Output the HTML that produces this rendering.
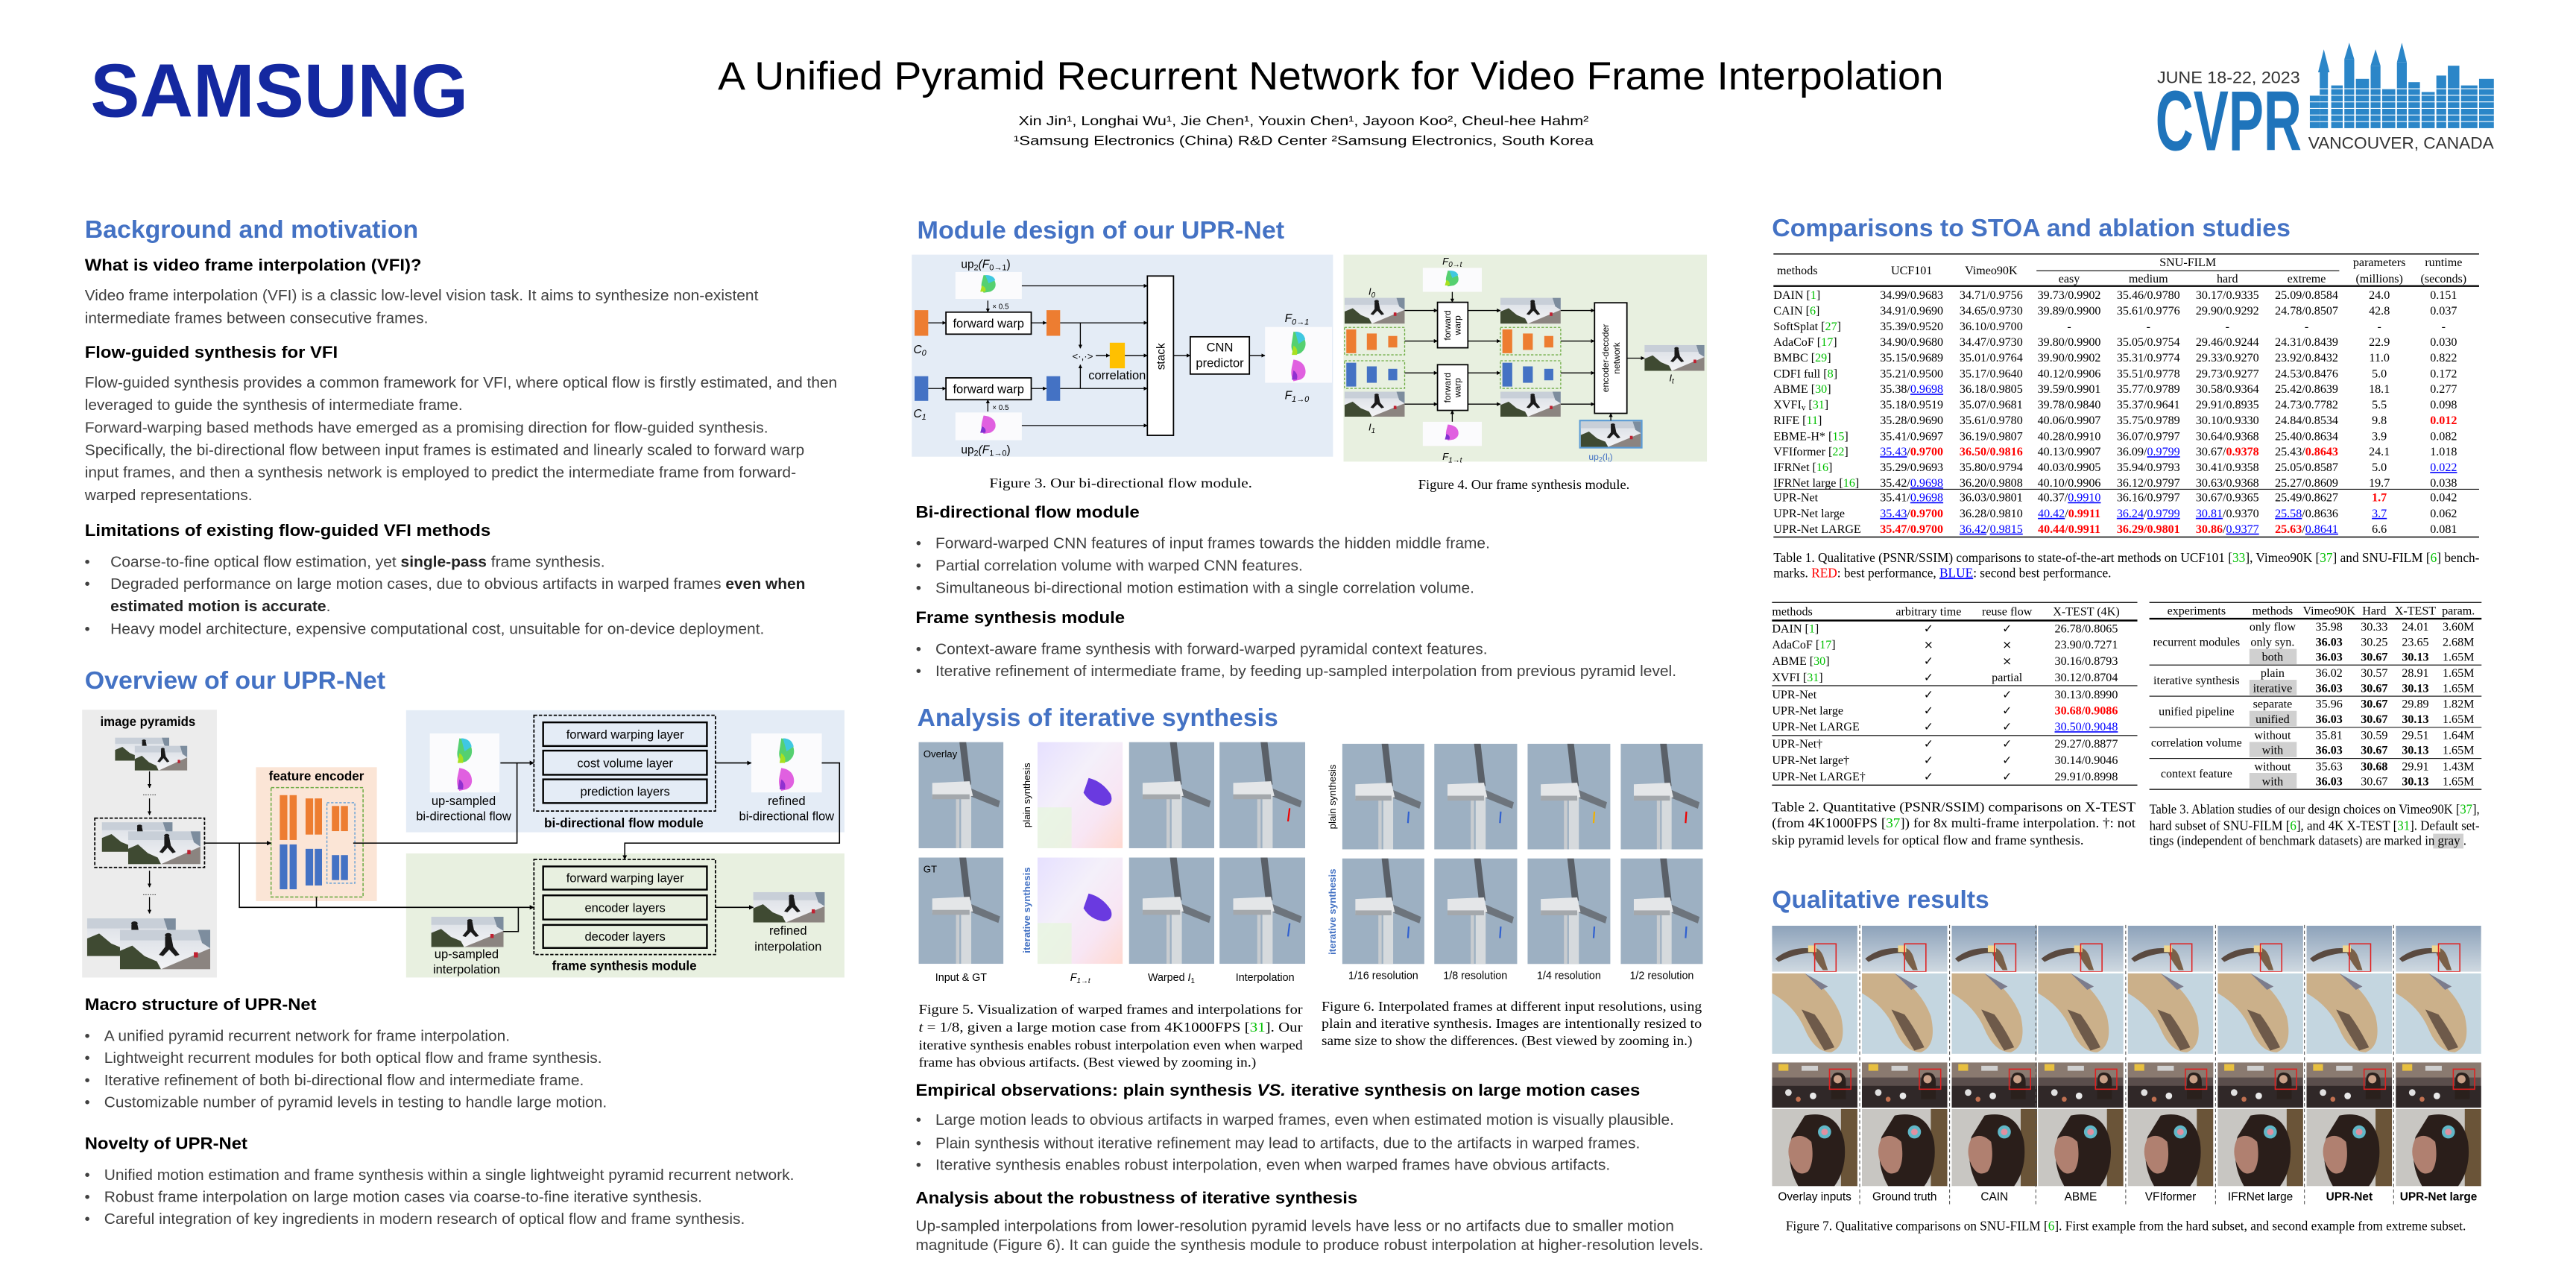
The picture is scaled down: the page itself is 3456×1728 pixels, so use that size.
<!DOCTYPE html>
<html><head><meta charset="utf-8"><style>
html,body{margin:0;padding:0;background:#fff;}
svg{display:block}
.h{font-family:"Liberation Sans",sans-serif;font-weight:bold;font-size:15px;fill:#4472C4}
.sh{font-family:"Liberation Sans",sans-serif;font-weight:bold;font-size:10px;fill:#000}
.b{font-family:"Liberation Sans",sans-serif;font-size:9.3px;fill:#404040}
.d{font-family:"Liberation Sans",sans-serif;font-size:7px;fill:#000}
.s{font-family:"Liberation Serif",serif;font-size:7.3px;fill:#000}
.c{font-family:"Liberation Serif",serif;font-size:8px;fill:#000}
.g{fill:#00c000}
.r{fill:#ff0000;font-weight:bold}
.u{fill:#0000ff;text-decoration:underline}
.bd{font-weight:bold}
</style></head><body>
<svg width="3456" height="1728" viewBox="0 0 1568 784" xmlns="http://www.w3.org/2000/svg">
<defs>
<marker id="ar" viewBox="0 0 6 6" refX="5.5" refY="3" markerWidth="4" markerHeight="4" orient="auto"><path d="M0,0 L6,3 L0,6 z" fill="#000"/></marker>
<linearGradient id="sky" x1="0" y1="0" x2="0" y2="1"><stop offset="0" stop-color="#d8dde4"/><stop offset="1" stop-color="#f4f4f6"/></linearGradient>
<symbol id="sk" viewBox="0 0 44 30" preserveAspectRatio="none">
<rect width="44" height="30" fill="url(#sky)"/><rect x="0" y="0" width="44" height="8" fill="#c8cfd8"/>
<path d="M0,30 L0,16 L6,12 L12,20 L18,24 L20,30 z" fill="#3f4a32"/>
<path d="M20,30 L44,14 L44,30 z" fill="#8b8480"/><path d="M38,0 L44,0 L44,14 L40,10z" fill="#7d8d9e"/>
<path d="M22,5 l3,0 l1,8 l3,6 l-2,1 l-3,-5 l-3,5 l-2,-1 l3,-6 z" fill="#1a1a1a"/><circle cx="23.5" cy="4" r="1.6" fill="#1a1a1a"/>
<rect x="36" y="17" width="2" height="4" fill="#c02030"/>
</symbol>
<symbol id="fl" viewBox="0 0 40 36" preserveAspectRatio="none">
<rect width="40" height="36" fill="#fbfbfd"/>
<path d="M17,3 q6,1 7,6 q1,5 -3,8 l-3,1 q-3,-3 -2,-8 z" fill="#55d070"/><path d="M18,3 q5,0 6,5 l-4,3z" fill="#40c8e0"/><path d="M17,12 q3,2 2,6 l-3,0z" fill="#a8e020"/>
<path d="M17,21 q6,1 7,6 q1,5 -3,7 l-4,1 q-2,-4 -1,-9 z" fill="#e060e0"/><path d="M17,28 q3,2 2,6 l-3,0z" fill="#9030d0"/>
</symbol>
<symbol id="fl1" viewBox="0 0 40 26" preserveAspectRatio="none">
<rect width="40" height="26" fill="#fbfbfd"/><path d="M17,3 q6,1 7,7 q1,6 -3,9 l-4,1 q-2,-5 -1,-11 z" fill="#55d070"/><path d="M18,3 q5,0 6,5 l-4,3z" fill="#40c8e0"/><path d="M16,13 q3,2 2,6 l-3,0z" fill="#a8e020"/>
</symbol>
<symbol id="fl2" viewBox="0 0 40 26" preserveAspectRatio="none">
<rect width="40" height="26" fill="#fbfbfd"/><path d="M17,3 q6,1 7,7 q1,6 -3,9 l-4,1 q-2,-5 -1,-11 z" fill="#e060e0"/><path d="M16,13 q3,2 2,6 l-3,0z" fill="#8030d0"/>
</symbol>
<symbol id="tb" viewBox="0 0 50 65" preserveAspectRatio="none">
<rect width="50" height="65" fill="#9db0c2"/>
<path d="M24,0 L28,0 L31,26 L27,27 z" fill="#5a6068"/>
<path d="M30,28 L48,36 L47,40 L30,33z" fill="#6d747c"/>
<rect x="25" y="30" width="6" height="35" fill="#d6dadd"/><rect x="22" y="32" width="2" height="33" fill="#c8ccd0"/>
<path d="M8,25 L30,24 L32,33 L8,34 z" fill="#e4e6e8"/><rect x="8" y="32" width="22" height="3" fill="#a4a8ac"/>
</symbol>
<linearGradient id="pf" x1="0" y1="0" x2="1" y2="1"><stop offset="0" stop-color="#e6e0ff"/><stop offset=".4" stop-color="#f4f0fa"/><stop offset=".7" stop-color="#f8e6f4"/><stop offset="1" stop-color="#ffd9d0"/></linearGradient>
<symbol id="ff" viewBox="0 0 50 65" preserveAspectRatio="none">
<rect width="50" height="65" fill="url(#pf)"/><rect x="0" y="40" width="20" height="25" fill="#e6f6dc" opacity=".7"/>
<path d="M30,22 q8,2 13,10 q2,6 -4,7 q-8,-1 -12,-8 z" fill="#6a3ae0"/>
</symbol>
<linearGradient id="bsky" x1="0" y1="0" x2="0" y2="1"><stop offset="0" stop-color="#8da2ba"/><stop offset="1" stop-color="#cfd9e1"/></linearGradient>
<symbol id="bt" viewBox="0 0 52 28" preserveAspectRatio="none">
<rect width="52" height="28" fill="url(#bsky)"/><path d="M2,20 q10,-8 24,-6 l4,3 q-12,-2 -26,5z" fill="#5a4a40"/><path d="M24,13 q6,0 8,8 l2,6 l-3,0 q-5,-6 -7,-12z" fill="#7a6048"/><rect x="22" y="12" width="5" height="4" fill="#f0d890"/>
<rect x="26" y="11" width="13" height="17" fill="none" stroke="#e02020" stroke-width=".7"/>
</symbol>
<symbol id="bw" viewBox="0 0 52 49" preserveAspectRatio="none">
<rect width="52" height="49" fill="#c4d6e0"/><path d="M0,0 L20,0 q16,10 22,26 q4,18 -6,22 q-10,0 -16,-14 q-6,-14 -20,-22z" fill="#cbb08a"/><path d="M18,22 q6,12 14,25 l6,-2 q-6,-12 -12,-20z" fill="#6e5a4a"/><path d="M20,0 L34,8 L30,10z" fill="#7c7c8c"/>
</symbol>
<symbol id="cr" viewBox="0 0 52 27" preserveAspectRatio="none">
<rect width="52" height="27" fill="#5a4e4c"/><rect x="0" y="0" width="52" height="9" fill="#8a7a70"/><rect x="4" y="1" width="6" height="4" fill="#e8c040"/><rect x="18" y="2" width="10" height="3" fill="#d0d0d0"/>
<rect x="0" y="14" width="52" height="13" fill="#302828"/><circle cx="10" cy="18" r="2" fill="#e0e0e0"/><circle cx="25" cy="20" r="2" fill="#e8e8e8"/><circle cx="16" cy="22" r="1.5" fill="#c07050"/>
<path d="M40,6 q5,0 5,6 l0,10 l-9,0 l0,-10 q0,-6 4,-6z" fill="#2a201c"/><circle cx="40" cy="10" r="2.5" fill="#c8a088"/>
<rect x="35" y="4" width="13" height="12" fill="none" stroke="#e02020" stroke-width=".7"/>
</symbol>
<symbol id="gl" viewBox="0 0 52 47" preserveAspectRatio="none">
<rect width="52" height="47" fill="#c8c6c2"/><rect x="42" y="0" width="10" height="47" fill="#6a5438"/>
<path d="M20,4 q20,-4 24,16 q2,16 -6,27 l-22,0 q-8,-14 -4,-30z" fill="#2a1e1a"/>
<path d="M12,18 q6,-4 12,2 q2,12 -2,18 q-6,4 -10,-4 q-4,-8 0,-16z" fill="#b08070"/>
<circle cx="32" cy="14" r="4" fill="#60b8c8"/><circle cx="32" cy="14" r="2" fill="#e090a0"/>
</symbol>
</defs>

<!-- HEADER -->
<text x="55" y="71" textLength="230" lengthAdjust="spacingAndGlyphs" style="font-family:'Liberation Sans',sans-serif;font-weight:bold;font-size:46px;fill:#1428A0">SAMSUNG</text>
<text x="437" y="54.5" textLength="746" lengthAdjust="spacingAndGlyphs" style="font-family:'Liberation Sans',sans-serif;font-size:24px;fill:#000">A Unified Pyramid Recurrent Network for Video Frame Interpolation</text>
<text x="620" y="76.3" textLength="347" lengthAdjust="spacingAndGlyphs" style="font-family:'Liberation Sans',sans-serif;font-size:8px;fill:#000">Xin Jin¹,  Longhai Wu¹, Jie Chen¹,  Youxin Chen¹, Jayoon Koo²,  Cheul-hee Hahm²</text>
<text x="617" y="88.3" textLength="353" lengthAdjust="spacingAndGlyphs" style="font-family:'Liberation Sans',sans-serif;font-size:8px;fill:#000">¹Samsung Electronics (China) R&amp;D Center       ²Samsung Electronics, South Korea</text>
<text x="1313" y="50.6" textLength="87" lengthAdjust="spacingAndGlyphs" style="font-family:'Liberation Sans',sans-serif;font-size:10px;fill:#333">JUNE 18-22, 2023</text>
<text x="1312" y="91.4" textLength="89" lengthAdjust="spacingAndGlyphs" style="font-family:'Liberation Sans',sans-serif;font-weight:bold;font-size:52px;fill:#1f74bb">CVPR</text>
<g fill="#2b86c8">
<rect x="1406" y="58" width="6" height="20"/><rect x="1412" y="44" width="5" height="34"/><path d="M1411,44 l3.5,-14 l3.5,14z"/>
<rect x="1419" y="52" width="7" height="26"/><rect x="1427" y="36" width="6" height="42"/><path d="M1427,36 l3,-10 l3,10z"/>
<rect x="1434" y="48" width="8" height="30"/><rect x="1443" y="40" width="6" height="38"/><path d="M1443,40 l3,-10 l3,10z"/>
<rect x="1450" y="54" width="8" height="24"/><rect x="1459" y="38" width="6" height="40"/><path d="M1459,38 l3,-12 l3,12z"/>
<rect x="1466" y="50" width="7" height="28"/><rect x="1474" y="56" width="8" height="22"/><rect x="1483" y="46" width="6" height="32"/>
<rect x="1490" y="40" width="7" height="38"/><rect x="1498" y="52" width="10" height="26"/><rect x="1509" y="48" width="9" height="30"/>
</g>
<g stroke="#fff" stroke-width=".5"><line x1="1406" y1="62" x2="1518" y2="62"/><line x1="1406" y1="66" x2="1518" y2="66"/><line x1="1406" y1="70" x2="1518" y2="70"/><line x1="1406" y1="74" x2="1518" y2="74"/><line x1="1406" y1="54" x2="1518" y2="54"/><line x1="1406" y1="58" x2="1518" y2="58"/></g>
<text x="1405" y="90.6" textLength="113" lengthAdjust="spacingAndGlyphs" style="font-family:'Liberation Sans',sans-serif;font-size:10px;fill:#333">VANCOUVER, CANADA</text>

<!-- LEFT COLUMN -->
<text class="h" x="51.6" y="144.8" textLength="203" lengthAdjust="spacingAndGlyphs">Background and motivation</text>
<text class="sh" x="51.6" y="164.6" textLength="205" lengthAdjust="spacingAndGlyphs">What is video frame interpolation (VFI)?</text>
<text class="b" x="51.6" y="182.9" textLength="410" lengthAdjust="spacingAndGlyphs">Video frame interpolation (VFI) is a classic low-level vision task. It aims to synthesize non-existent</text>
<text class="b" x="51.6" y="196.7" textLength="209" lengthAdjust="spacingAndGlyphs">intermediate frames between consecutive frames.</text>
<text class="sh" x="51.6" y="217.7" textLength="154" lengthAdjust="spacingAndGlyphs">Flow-guided synthesis for VFI</text>
<text class="b" x="51.6" y="236" textLength="458" lengthAdjust="spacingAndGlyphs">Flow-guided synthesis provides a common framework for VFI, where optical flow is firstly estimated, and then</text>
<text class="b" x="51.6" y="249.5" textLength="230" lengthAdjust="spacingAndGlyphs">leveraged to guide the synthesis of intermediate frame.</text>
<text class="b" x="51.6" y="263.3" textLength="416" lengthAdjust="spacingAndGlyphs">Forward-warping based methods have emerged as a promising direction for flow-guided synthesis.</text>
<text class="b" x="51.6" y="276.9" textLength="438" lengthAdjust="spacingAndGlyphs">Specifically, the bi-directional flow between input frames is estimated and linearly scaled to forward warp</text>
<text class="b" x="51.6" y="290.7" textLength="433" lengthAdjust="spacingAndGlyphs">input frames, and then a synthesis network is employed to predict the intermediate frame from forward-</text>
<text class="b" x="51.6" y="304.4" textLength="102" lengthAdjust="spacingAndGlyphs">warped representations.</text>
<text class="sh" x="51.6" y="326.1" textLength="247" lengthAdjust="spacingAndGlyphs">Limitations of existing flow-guided VFI methods</text>
<g class="b"><text x="51.5" y="345">•</text><text x="51.5" y="358.5">•</text><text x="51.5" y="385.9">•</text></g>
<text class="b" x="67.2" y="345" textLength="301" lengthAdjust="spacingAndGlyphs">Coarse-to-fine optical flow estimation, yet <tspan class="bd" fill="#222">single-pass</tspan> frame synthesis.</text>
<text class="b" x="67.2" y="358.5" textLength="423" lengthAdjust="spacingAndGlyphs">Degraded performance on large motion cases, due to obvious artifacts in warped frames <tspan class="bd" fill="#222">even when</tspan></text>
<text class="b" x="67.2" y="372.1" textLength="134" lengthAdjust="spacingAndGlyphs"><tspan class="bd" fill="#222">estimated motion is accurate</tspan>.</text>
<text class="b" x="67.2" y="385.9" textLength="398" lengthAdjust="spacingAndGlyphs">Heavy model architecture, expensive computational cost, unsuitable for on-device deployment.</text>
<text class="h" x="51.6" y="419.3" textLength="183" lengthAdjust="spacingAndGlyphs">Overview of our UPR-Net</text>

<!-- Overview diagram -->
<rect x="50" y="432" width="82" height="163" fill="#ececec"/>
<text x="90" y="442" text-anchor="middle" textLength="58" lengthAdjust="spacingAndGlyphs" style="font-family:'Liberation Sans',sans-serif;font-weight:bold;font-size:8px">image pyramids</text>
<use href="#sk" x="70" y="449" width="33" height="14"/><use href="#sk" x="82" y="454" width="32" height="15"/>
<g stroke="#000" stroke-width=".6" marker-end="url(#ar)"><line x1="91" y1="469.5" x2="91" y2="479.5"/><line x1="91" y1="486" x2="91" y2="496"/><line x1="91" y1="530" x2="91" y2="540"/><line x1="91" y1="546" x2="91" y2="556"/></g>
<text x="91" y="484" text-anchor="middle" class="d" style="font-size:5px">......</text><text x="91" y="545" text-anchor="middle" class="d" style="font-size:5px">......</text>
<rect x="57.7" y="498" width="66.8" height="30" fill="none" stroke="#000" stroke-width=".8" stroke-dasharray="2,1"/>
<use href="#sk" x="62" y="500.5" width="43" height="18"/><use href="#sk" x="78" y="506" width="44" height="20"/>
<use href="#sk" x="53" y="559" width="54" height="23"/><use href="#sk" x="73" y="566" width="55" height="24"/>
<rect x="155.8" y="467" width="73.6" height="81.5" fill="#fbe5d6"/>
<text x="192.6" y="475" text-anchor="middle" textLength="58" lengthAdjust="spacingAndGlyphs" style="font-family:'Liberation Sans',sans-serif;font-weight:bold;font-size:8px">feature encoder</text>
<rect x="165" y="479.4" width="56" height="66.6" fill="none" stroke="#70ad47" stroke-width=".7" stroke-dasharray="2,1"/>
<g fill="#ed7d31"><rect x="170.3" y="484" width="4.6" height="27.3"/><rect x="176.3" y="484" width="4.3" height="27.3"/><rect x="186" y="486" width="4.6" height="22"/><rect x="191.6" y="486" width="4.4" height="22"/><rect x="202" y="490.6" width="4.5" height="15.3"/><rect x="207.5" y="490.6" width="4.3" height="15.3"/></g>
<g fill="#4472c4"><rect x="170.3" y="514" width="4.6" height="27.3"/><rect x="176.3" y="514" width="4.3" height="27.3"/><rect x="186" y="516.7" width="4.6" height="22.3"/><rect x="191.6" y="516.7" width="4.4" height="22.3"/><rect x="202" y="520.5" width="4.5" height="15.2"/><rect x="207.5" y="520.5" width="4.3" height="15.2"/></g>
<rect x="199" y="488.6" width="17" height="49" fill="none" stroke="#5b9bd5" stroke-width=".6" stroke-dasharray="1.5,1"/>
<rect x="247.2" y="432.3" width="266.8" height="74.3" fill="#e4ecf6"/>
<rect x="247.2" y="519.5" width="266.8" height="75.5" fill="#e8f0e0"/>
<rect x="325" y="435.4" width="110.5" height="58.3" fill="none" stroke="#000" stroke-width=".8" stroke-dasharray="2,1"/>
<g fill="none" stroke="#000" stroke-width="1.1"><rect x="330.6" y="439.7" width="99.7" height="14.4"/><rect x="330.6" y="456.9" width="99.7" height="14.7"/><rect x="330.6" y="474.4" width="99.7" height="14.4"/></g>
<g class="d" text-anchor="middle" style="font-size:7.5px"><text x="380.5" y="449.6">forward warping layer</text><text x="380.5" y="467">cost volume layer</text><text x="380.5" y="484.4">prediction layers</text></g>
<text x="379.7" y="503.5" text-anchor="middle" textLength="97" lengthAdjust="spacingAndGlyphs" style="font-family:'Liberation Sans',sans-serif;font-weight:bold;font-size:8px">bi-directional flow module</text>
<use href="#fl" x="261.6" y="446.4" width="42.4" height="36"/><use href="#fl" x="457.3" y="446.4" width="43" height="36"/>
<g class="d" text-anchor="middle" style="font-size:7.5px"><text x="282.2" y="490">up-sampled</text><text x="282.2" y="499.4">bi-directional flow</text><text x="478.8" y="490">refined</text><text x="478.8" y="499.4">bi-directional flow</text></g>
<rect x="325" y="523.1" width="110.5" height="57.9" fill="none" stroke="#000" stroke-width=".8" stroke-dasharray="2,1"/>
<g fill="none" stroke="#000" stroke-width="1.1"><rect x="330.6" y="527.4" width="99.7" height="14.1"/><rect x="330.6" y="545" width="99.7" height="14.7"/><rect x="330.6" y="563" width="99.7" height="14"/></g>
<g class="d" text-anchor="middle" style="font-size:7.5px"><text x="380.5" y="537">forward warping layer</text><text x="380.5" y="555">encoder layers</text><text x="380.5" y="572.6">decoder layers</text></g>
<text x="380" y="590.5" text-anchor="middle" textLength="88" lengthAdjust="spacingAndGlyphs" style="font-family:'Liberation Sans',sans-serif;font-weight:bold;font-size:8px">frame synthesis module</text>
<use href="#sk" x="262.5" y="558" width="44" height="18.5"/><use href="#sk" x="458.5" y="543" width="43.5" height="18.5"/>
<g class="d" text-anchor="middle" style="font-size:7.5px"><text x="284" y="583.3">up-sampled</text><text x="284" y="592.6">interpolation</text><text x="479.7" y="569">refined</text><text x="479.7" y="578.6">interpolation</text></g>
<g fill="none" stroke="#000" stroke-width=".7">
<line x1="304.6" y1="464.4" x2="325" y2="464.4" marker-end="url(#ar)"/>
<line x1="435.5" y1="464.4" x2="457.3" y2="464.4" marker-end="url(#ar)"/>
<polyline points="500.2,464.4 511,464.4 511,513.2 380.3,513.2 380.3,523.1" marker-end="url(#ar)"/>
<polyline points="215,513.2 314.7,513.2 314.7,464.4"/>
<line x1="124.6" y1="513.2" x2="165" y2="513.2" marker-end="url(#ar)"/>
<polyline points="145.7,513.2 145.7,552.3 325,552.3" marker-end="url(#ar)"/>
<line x1="192.6" y1="546" x2="192.6" y2="552.3"/>
<polyline points="306.4,567 315.5,567 315.5,552.3"/>
<line x1="435.5" y1="552.3" x2="458.5" y2="552.3" marker-end="url(#ar)"/>
</g>

<text class="sh" x="51.6" y="614.8" textLength="141" lengthAdjust="spacingAndGlyphs">Macro structure of UPR-Net</text>
<g class="b"><text x="51.5" y="633.6">•</text><text x="51.5" y="646.9">•</text><text x="51.5" y="660.5">•</text><text x="51.5" y="674">•</text><text x="51.5" y="718.2">•</text><text x="51.5" y="731.5">•</text><text x="51.5" y="744.9">•</text></g>
<text class="b" x="63.4" y="633.6" textLength="247" lengthAdjust="spacingAndGlyphs">A unified pyramid recurrent network for frame interpolation.</text>
<text class="b" x="63.4" y="646.9" textLength="303" lengthAdjust="spacingAndGlyphs">Lightweight recurrent modules for both optical flow and frame synthesis.</text>
<text class="b" x="63.4" y="660.5" textLength="292" lengthAdjust="spacingAndGlyphs">Iterative refinement of both bi-directional flow and intermediate frame.</text>
<text class="b" x="63.4" y="674" textLength="306" lengthAdjust="spacingAndGlyphs">Customizable number of pyramid levels in testing to handle large motion.</text>
<text class="sh" x="51.6" y="699.3" textLength="99" lengthAdjust="spacingAndGlyphs">Novelty of UPR-Net</text>
<text class="b" x="63.4" y="718.2" textLength="420" lengthAdjust="spacingAndGlyphs">Unified motion estimation and frame synthesis within a single lightweight pyramid recurrent network.</text>
<text class="b" x="63.4" y="731.5" textLength="364" lengthAdjust="spacingAndGlyphs">Robust frame interpolation on large motion cases via coarse-to-fine iterative synthesis.</text>
<text class="b" x="63.4" y="744.9" textLength="390" lengthAdjust="spacingAndGlyphs">Careful integration of key ingredients in modern research of optical flow and frame synthesis.</text>

<!-- MIDDLE COLUMN -->
<text class="h" x="558.3" y="145.2" textLength="223.5" lengthAdjust="spacingAndGlyphs">Module design of our UPR-Net</text>
<rect x="555" y="155" width="256.4" height="123" fill="#e4ecf6"/>
<rect x="817.8" y="155" width="221.2" height="126" fill="#e8f0e0"/>
<!-- fig3 -->
<text x="585" y="163" class="d" style="font-size:7px">up<tspan font-size="5" dy="1.5">2</tspan><tspan dy="-1.5" font-style="italic">(F</tspan><tspan font-size="5" dy="1.5">0→1</tspan><tspan dy="-1.5">)</tspan></text>
<use href="#fl1" x="581.5" y="165.5" width="40.5" height="16.5"/>
<use href="#fl2" x="581.5" y="251" width="40.5" height="17"/>
<text x="585" y="276" class="d" style="font-size:7px">up<tspan font-size="5" dy="1.5">2</tspan><tspan dy="-1.5" font-style="italic">(F</tspan><tspan font-size="5" dy="1.5">1→0</tspan><tspan dy="-1.5">)</tspan></text>
<rect x="556.7" y="188.8" width="8.3" height="15.6" fill="#ed7d31"/><rect x="637" y="188.8" width="8.3" height="15.6" fill="#ed7d31"/>
<rect x="556.7" y="229" width="8.3" height="15" fill="#4472c4"/><rect x="637" y="229" width="8.3" height="15" fill="#4472c4"/>
<rect x="675.5" y="208.6" width="9.2" height="15.6" fill="#ffc000"/>
<text x="556" y="215" class="d" font-style="italic">C<tspan font-size="5" dy="1.5">0</tspan></text><text x="556" y="254" class="d" font-style="italic">C<tspan font-size="5" dy="1.5">1</tspan></text>
<g fill="#fff" stroke="#000" stroke-width=".8"><rect x="575.8" y="190" width="51.9" height="13.4"/><rect x="575.8" y="230" width="51.9" height="13.3"/><rect x="698.4" y="168" width="15.9" height="97"/><rect x="724.5" y="205" width="36" height="22.7"/></g>
<g class="d" style="font-size:7.5px" text-anchor="middle"><text x="601.7" y="199.5">forward warp</text><text x="601.7" y="239.3">forward warp</text><text x="742.5" y="214">CNN</text><text x="742.5" y="223.5">predictor</text><text x="680" y="231">correlation</text><text x="659" y="219" font-size="6">&lt;·,·&gt;</text></g>
<text transform="translate(709,217) rotate(-90)" class="d" text-anchor="middle" style="font-size:7px">stack</text>
<g class="d" style="font-size:4.5px"><text x="604" y="188">× 0.5</text><text x="604" y="249.5">× 0.5</text></g>
<g fill="none" stroke="#000" stroke-width=".6">
<line x1="622" y1="174" x2="698.4" y2="174" marker-end="url(#ar)"/>
<line x1="622" y1="259" x2="698.4" y2="259" marker-end="url(#ar)"/>
<line x1="601.3" y1="183" x2="601.3" y2="190" marker-end="url(#ar)"/>
<line x1="601.3" y1="250.5" x2="601.3" y2="243.3" marker-end="url(#ar)"/>
<line x1="565" y1="196.5" x2="575.8" y2="196.5" marker-end="url(#ar)"/><line x1="565" y1="236.5" x2="575.8" y2="236.5" marker-end="url(#ar)"/>
<line x1="627.7" y1="196.5" x2="637" y2="196.5" marker-end="url(#ar)"/><line x1="627.7" y1="236.5" x2="637" y2="236.5" marker-end="url(#ar)"/>
<line x1="645.3" y1="196.5" x2="698.4" y2="196.5" marker-end="url(#ar)"/><line x1="645.3" y1="236.5" x2="698.4" y2="236.5" marker-end="url(#ar)"/>
<line x1="657.6" y1="196.5" x2="657.6" y2="212" marker-end="url(#ar)"/><line x1="657.6" y1="236.5" x2="657.6" y2="222" marker-end="url(#ar)"/>
<line x1="667" y1="216.4" x2="675.5" y2="216.4" marker-end="url(#ar)"/><line x1="684.7" y1="216.4" x2="698.4" y2="216.4" marker-end="url(#ar)"/>
<line x1="714.3" y1="216.4" x2="724.5" y2="216.4" marker-end="url(#ar)"/><line x1="760.5" y1="216.4" x2="770" y2="216.4" marker-end="url(#ar)"/>
</g>
<use href="#fl" x="770" y="199" width="40.8" height="34"/>
<text x="782" y="196" class="d" font-style="italic" style="font-size:7px">F<tspan font-size="5" dy="1.5">0→1</tspan></text>
<text x="782" y="243" class="d" font-style="italic" style="font-size:7px">F<tspan font-size="5" dy="1.5">1→0</tspan></text>
<!-- fig4 -->
<text x="878" y="161" class="d" font-style="italic" style="font-size:6px">F<tspan font-size="4.5" dy="1.5">0→t</tspan></text>
<use href="#fl1" x="866" y="163" width="36" height="14.7"/><use href="#fl2" x="866" y="256.7" width="36" height="14.8"/>
<text x="878" y="280" class="d" font-style="italic" style="font-size:6px">F<tspan font-size="4.5" dy="1.5">1→t</tspan></text>
<text x="833" y="179.5" class="d" font-style="italic" style="font-size:6px">I<tspan font-size="4.5" dy="1.5">0</tspan></text>
<text x="833" y="262" class="d" font-style="italic" style="font-size:6px">I<tspan font-size="4.5" dy="1.5">1</tspan></text>
<use href="#sk" x="818.4" y="181.3" width="36.6" height="15.7"/><use href="#sk" x="818.4" y="238.4" width="36.6" height="15.2"/>
<use href="#sk" x="913.3" y="181.3" width="36.7" height="15.7"/><use href="#sk" x="913.3" y="238.4" width="36.7" height="15.2"/>
<g fill="none" stroke="#70ad47" stroke-width=".6" stroke-dasharray="1.5,1"><rect x="818.4" y="199.3" width="36.6" height="16.7"/><rect x="818.4" y="219.6" width="36.6" height="16.8"/><rect x="913.3" y="199.3" width="36.7" height="16.7"/><rect x="913.3" y="219.6" width="36.7" height="16.8"/></g>
<g fill="#ed7d31"><rect x="819.5" y="200.5" width="6" height="14.5"/><rect x="832" y="203" width="6" height="10"/><rect x="845" y="204.5" width="5.5" height="7"/><rect x="914.5" y="200.5" width="6" height="14.5"/><rect x="927" y="203" width="6" height="10"/><rect x="940" y="204.5" width="5.5" height="7"/></g>
<g fill="#4472c4"><rect x="819.5" y="220.8" width="6" height="14.5"/><rect x="832" y="223" width="6" height="10"/><rect x="845" y="224.5" width="5.5" height="7"/><rect x="914.5" y="220.8" width="6" height="14.5"/><rect x="927" y="223" width="6" height="10"/><rect x="940" y="224.5" width="5.5" height="7"/></g>
<g fill="#fff" stroke="#000" stroke-width=".8"><rect x="875" y="184" width="18.5" height="27.7"/><rect x="875" y="222" width="18.5" height="27.8"/><rect x="970.6" y="184.3" width="19.7" height="67.3"/></g>
<g class="d" text-anchor="middle" style="font-size:5.5px"><text transform="translate(883,198) rotate(-90)">forward</text><text transform="translate(889,198) rotate(-90)">warp</text><text transform="translate(883,236) rotate(-90)">forward</text><text transform="translate(889,236) rotate(-90)">warp</text><text transform="translate(979,218) rotate(-90)">encoder-decoder</text><text transform="translate(986,218) rotate(-90)">network</text></g>
<rect x="961.7" y="256" width="37.6" height="16.5" fill="none" stroke="#5b9bd5" stroke-width="1"/><use href="#sk" x="962.2" y="256.5" width="36.6" height="15.5"/>
<text x="967" y="280" style="font-family:'Liberation Sans',sans-serif;font-size:5.5px;fill:#4472c4">up<tspan font-size="4" dy="1">2</tspan><tspan dy="-1">(I</tspan><tspan font-size="4" dy="1">t</tspan><tspan dy="-1">)</tspan></text>
<use href="#sk" x="1001" y="210" width="36.5" height="15.7"/>
<text x="1016" y="232" class="d" font-style="italic" style="font-size:6px">I<tspan font-size="4.5" dy="1.5">t</tspan></text>
<g fill="none" stroke="#000" stroke-width=".6">
<line x1="884" y1="177.7" x2="884" y2="184" marker-end="url(#ar)"/><line x1="884" y1="256.7" x2="884" y2="249.8" marker-end="url(#ar)"/>
<line x1="855" y1="189" x2="875" y2="189" marker-end="url(#ar)"/><line x1="855" y1="207.6" x2="875" y2="207.6" marker-end="url(#ar)"/>
<line x1="855" y1="227" x2="875" y2="227" marker-end="url(#ar)"/><line x1="855" y1="246" x2="875" y2="246" marker-end="url(#ar)"/>
<line x1="893.5" y1="189" x2="913.3" y2="189" marker-end="url(#ar)"/><line x1="893.5" y1="207.6" x2="913.3" y2="207.6" marker-end="url(#ar)"/>
<line x1="893.5" y1="227" x2="913.3" y2="227" marker-end="url(#ar)"/><line x1="893.5" y1="246" x2="913.3" y2="246" marker-end="url(#ar)"/>
<line x1="950" y1="189" x2="970.6" y2="189" marker-end="url(#ar)"/><line x1="950" y1="207.6" x2="970.6" y2="207.6" marker-end="url(#ar)"/>
<line x1="950" y1="227" x2="970.6" y2="227" marker-end="url(#ar)"/><line x1="950" y1="246" x2="970.6" y2="246" marker-end="url(#ar)"/>
<line x1="980.5" y1="256" x2="980.5" y2="251.6" marker-end="url(#ar)"/><line x1="990.3" y1="218" x2="1001" y2="218" marker-end="url(#ar)"/>
</g>
<text class="c" x="602.2" y="296.8" textLength="160" lengthAdjust="spacingAndGlyphs">Figure 3. Our bi-directional flow module.</text>
<text class="c" x="863.3" y="297.6" textLength="128.6" lengthAdjust="spacingAndGlyphs">Figure 4. Our frame synthesis module.</text>

<text class="sh" x="557.3" y="315" textLength="136.3" lengthAdjust="spacingAndGlyphs">Bi-directional flow module</text>
<g class="b"><text x="557.5" y="333.7">•</text><text x="557.5" y="347.4">•</text><text x="557.5" y="361">•</text><text x="557.5" y="398.1">•</text><text x="557.5" y="411.6">•</text></g>
<text class="b" x="569.4" y="333.7" textLength="337.5" lengthAdjust="spacingAndGlyphs">Forward-warped CNN features of input frames towards the hidden middle frame.</text>
<text class="b" x="569.4" y="347.4" textLength="223.6" lengthAdjust="spacingAndGlyphs">Partial correlation volume with warped CNN features.</text>
<text class="b" x="569.4" y="361" textLength="328" lengthAdjust="spacingAndGlyphs">Simultaneous bi-directional motion estimation with a single correlation volume.</text>
<text class="sh" x="557.3" y="379.2" textLength="127.4" lengthAdjust="spacingAndGlyphs">Frame synthesis module</text>
<text class="b" x="569.4" y="398.1" textLength="336" lengthAdjust="spacingAndGlyphs">Context-aware frame synthesis with forward-warped pyramidal context features.</text>
<text class="b" x="569.4" y="411.6" textLength="451" lengthAdjust="spacingAndGlyphs">Iterative refinement of intermediate frame, by feeding up-sampled interpolation from previous pyramid level.</text>
<text class="h" x="558.3" y="442" textLength="219.7" lengthAdjust="spacingAndGlyphs">Analysis of iterative synthesis</text>

<!-- fig5 -->
<use href="#tb" x="559.2" y="451.7" width="51.6" height="64.6"/><use href="#tb" x="559.2" y="522" width="51.6" height="64.7"/>
<use href="#ff" x="631.5" y="451.7" width="51.9" height="64.6"/><use href="#ff" x="631.5" y="522" width="51.9" height="64.7"/>
<use href="#tb" x="687.2" y="451.7" width="51.9" height="64.6"/><use href="#tb" x="687.2" y="522" width="51.9" height="64.7"/>
<use href="#tb" x="742.3" y="451.7" width="52.2" height="64.6"/><use href="#tb" x="742.3" y="522" width="52.2" height="64.7"/>
<g class="d" style="font-size:6px"><text x="562" y="461">Overlay</text><text x="562" y="531">GT</text></g>
<text transform="translate(627,484) rotate(-90)" text-anchor="middle" class="d" style="font-size:6px">plain synthesis</text>
<text transform="translate(627,554) rotate(-90)" text-anchor="middle" style="font-family:'Liberation Sans',sans-serif;font-weight:bold;font-size:6px;fill:#4472c4">iterative synthesis</text>
<g stroke-width="1"><line x1="784" y1="500" x2="785" y2="492" stroke="#e00"/><line x1="784" y1="570" x2="785" y2="562" stroke="#3060d0"/></g>
<g class="d" text-anchor="middle" style="font-size:6.5px"><text x="585" y="597">Input &amp; GT</text><text x="657.5" y="597" font-style="italic">F<tspan font-size="4.5" dy="1.5">1→t</tspan></text><text x="713" y="597">Warped <tspan font-style="italic">I</tspan><tspan font-size="4.5" dy="1.5">1</tspan></text><text x="770" y="597">Interpolation</text></g>
<!-- fig6 -->
<text transform="translate(813,485) rotate(-90)" text-anchor="middle" class="d" style="font-size:6px">plain synthesis</text>
<text transform="translate(813,555) rotate(-90)" text-anchor="middle" style="font-family:'Liberation Sans',sans-serif;font-weight:bold;font-size:6px;fill:#4472c4">iterative synthesis</text>
<use href="#tb" x="817" y="452.7" width="50" height="64.3"/><use href="#tb" x="873" y="452.7" width="50.5" height="64.3"/><use href="#tb" x="929.8" y="452.7" width="50.4" height="64.3"/><use href="#tb" x="986.5" y="452.7" width="50" height="64.3"/>
<use href="#tb" x="817" y="522.5" width="50" height="64.3"/><use href="#tb" x="873" y="522.5" width="50.5" height="64.3"/><use href="#tb" x="929.8" y="522.5" width="50.4" height="64.3"/><use href="#tb" x="986.5" y="522.5" width="50" height="64.3"/>
<g stroke-width="1"><line x1="857" y1="501" x2="857.5" y2="494" stroke="#3060d0"/><line x1="913" y1="501" x2="913.5" y2="494" stroke="#3060d0"/><line x1="970" y1="501" x2="970.5" y2="494" stroke="#f0b000"/><line x1="1026" y1="501" x2="1026.5" y2="494" stroke="#e00"/>
<line x1="857" y1="571" x2="857.5" y2="564" stroke="#3060d0"/><line x1="913" y1="571" x2="913.5" y2="564" stroke="#3060d0"/><line x1="970" y1="571" x2="970.5" y2="564" stroke="#3060d0"/><line x1="1026" y1="571" x2="1026.5" y2="564" stroke="#3060d0"/></g>
<g class="d" text-anchor="middle" style="font-size:6.5px"><text x="842" y="596">1/16 resolution</text><text x="898" y="596">1/8 resolution</text><text x="955" y="596">1/4 resolution</text><text x="1011.5" y="596">1/2 resolution</text></g>
<text class="c" x="559.2" y="617" textLength="233.7" lengthAdjust="spacingAndGlyphs">Figure 5.  Visualization of warped frames and interpolations for</text>
<text class="c" x="559.2" y="628" textLength="233.7" lengthAdjust="spacingAndGlyphs"><tspan font-style="italic">t</tspan> = 1/8, given a large motion case from 4K1000FPS [<tspan class="g">31</tspan>].  Our</text>
<text class="c" x="559.2" y="638.8" textLength="233.7" lengthAdjust="spacingAndGlyphs">iterative synthesis enables robust interpolation even when warped</text>
<text class="c" x="559.2" y="649.3" textLength="205.4" lengthAdjust="spacingAndGlyphs">frame has obvious artifacts. (Best viewed by zooming in.)</text>
<text class="c" x="804.4" y="615.3" textLength="231.5" lengthAdjust="spacingAndGlyphs">Figure 6.  Interpolated frames at different input resolutions, using</text>
<text class="c" x="804.4" y="625.7" textLength="231.5" lengthAdjust="spacingAndGlyphs">plain and iterative synthesis.  Images are intentionally resized to</text>
<text class="c" x="804.4" y="636.1" textLength="225.7" lengthAdjust="spacingAndGlyphs">same size to show the differences. (Best viewed by zooming in.)</text>
<text class="sh" x="557.3" y="667" textLength="441" lengthAdjust="spacingAndGlyphs">Empirical observations: plain synthesis <tspan font-style="italic">VS.</tspan> iterative synthesis on large motion cases</text>
<g class="b"><text x="557.5" y="684.7">•</text><text x="557.5" y="698.9">•</text><text x="557.5" y="712.2">•</text></g>
<text class="b" x="569.4" y="684.7" textLength="449.6" lengthAdjust="spacingAndGlyphs">Large motion leads to obvious artifacts in warped frames, even when estimated motion is visually plausible.</text>
<text class="b" x="569.4" y="698.9" textLength="428.9" lengthAdjust="spacingAndGlyphs">Plain synthesis without iterative refinement may lead to artifacts, due to the artifacts in warped frames.</text>
<text class="b" x="569.4" y="712.2" textLength="410.7" lengthAdjust="spacingAndGlyphs">Iterative synthesis enables robust interpolation, even when warped frames have obvious artifacts.</text>
<text class="sh" x="557.3" y="732.6" textLength="269" lengthAdjust="spacingAndGlyphs">Analysis about the robustness of iterative synthesis</text>
<text class="b" x="557.3" y="749.3" textLength="461.7" lengthAdjust="spacingAndGlyphs">Up-sampled interpolations from lower-resolution pyramid levels have less or no artifacts due to smaller motion</text>
<text class="b" x="557.3" y="760.8" textLength="479.5" lengthAdjust="spacingAndGlyphs">magnitude (Figure 6). It can guide the synthesis module to produce robust interpolation at higher-resolution levels.</text>

<!-- RIGHT COLUMN -->
<text class="h" x="1078.6" y="143.9" textLength="315.6" lengthAdjust="spacingAndGlyphs">Comparisons to STOA and ablation studies</text>
<g stroke="#000"><line x1="1079.5" y1="154.6" x2="1509" y2="154.6" stroke-width=".7"/><line x1="1239.6" y1="164.8" x2="1423.9" y2="164.8" stroke-width=".5"/><line x1="1079.5" y1="174.1" x2="1509" y2="174.1" stroke-width="1"/><line x1="1079.5" y1="297.8" x2="1509" y2="297.8" stroke-width=".5"/><line x1="1079.5" y1="326.9" x2="1509" y2="326.9" stroke-width=".7"/></g>
<g class="s" text-anchor="middle"><text x="1094" y="167">methods</text><text x="1163.6" y="167">UCF101</text><text x="1212" y="167">Vimeo90K</text><text x="1331.7" y="162">SNU-FILM</text><text x="1259.5" y="172">easy</text><text x="1307.7" y="172">medium</text><text x="1355.8" y="172">hard</text><text x="1404" y="172">extreme</text><text x="1448.3" y="162">parameters</text><text x="1448.3" y="172">(millions)</text><text x="1487.4" y="162">runtime</text><text x="1487.4" y="172">(seconds)</text></g>
<g class="s">
<text x="1079.5" y="182">DAIN [<tspan class="g">1</tspan>]</text><text x="1079.5" y="191.5">CAIN [<tspan class="g">6</tspan>]</text><text x="1079.5" y="201">SoftSplat [<tspan class="g">27</tspan>]</text><text x="1079.5" y="210.6">AdaCoF [<tspan class="g">17</tspan>]</text><text x="1079.5" y="220.1">BMBC [<tspan class="g">29</tspan>]</text><text x="1079.5" y="229.7">CDFI full [<tspan class="g">8</tspan>]</text><text x="1079.5" y="239.2">ABME [<tspan class="g">30</tspan>]</text><text x="1079.5" y="248.7">XVFI<tspan font-size="5" dy="1">v</tspan><tspan dy="-1"> [</tspan><tspan class="g">31</tspan>]</text><text x="1079.5" y="258.2">RIFE [<tspan class="g">11</tspan>]</text><text x="1079.5" y="267.8">EBME-H* [<tspan class="g">15</tspan>]</text><text x="1079.5" y="277.3">VFIformer [<tspan class="g">22</tspan>]</text><text x="1079.5" y="286.8">IFRNet [<tspan class="g">16</tspan>]</text><text x="1079.5" y="296.3">IFRNet large [<tspan class="g">16</tspan>]</text>
<text x="1079.5" y="305.2">UPR-Net</text><text x="1079.5" y="314.8">UPR-Net large</text><text x="1079.5" y="324.3">UPR-Net LARGE</text>
</g>
<g class="s" text-anchor="middle">
<text x="1163.6" y="182">34.99/0.9683</text><text x="1212" y="182">34.71/0.9756</text><text x="1259.5" y="182">39.73/0.9902</text><text x="1307.7" y="182">35.46/0.9780</text><text x="1355.8" y="182">30.17/0.9335</text><text x="1404" y="182">25.09/0.8584</text><text x="1448.3" y="182">24.0</text><text x="1487.4" y="182">0.151</text>
<text x="1163.6" y="191.5">34.91/0.9690</text><text x="1212" y="191.5">34.65/0.9730</text><text x="1259.5" y="191.5">39.89/0.9900</text><text x="1307.7" y="191.5">35.61/0.9776</text><text x="1355.8" y="191.5">29.90/0.9292</text><text x="1404" y="191.5">24.78/0.8507</text><text x="1448.3" y="191.5">42.8</text><text x="1487.4" y="191.5">0.037</text>
<text x="1163.6" y="201">35.39/0.9520</text><text x="1212" y="201">36.10/0.9700</text><text x="1259.5" y="201">-</text><text x="1307.7" y="201">-</text><text x="1355.8" y="201">-</text><text x="1404" y="201">-</text><text x="1448.3" y="201">-</text><text x="1487.4" y="201">-</text>
<text x="1163.6" y="210.6">34.90/0.9680</text><text x="1212" y="210.6">34.47/0.9730</text><text x="1259.5" y="210.6">39.80/0.9900</text><text x="1307.7" y="210.6">35.05/0.9754</text><text x="1355.8" y="210.6">29.46/0.9244</text><text x="1404" y="210.6">24.31/0.8439</text><text x="1448.3" y="210.6">22.9</text><text x="1487.4" y="210.6">0.030</text>
<text x="1163.6" y="220.1">35.15/0.9689</text><text x="1212" y="220.1">35.01/0.9764</text><text x="1259.5" y="220.1">39.90/0.9902</text><text x="1307.7" y="220.1">35.31/0.9774</text><text x="1355.8" y="220.1">29.33/0.9270</text><text x="1404" y="220.1">23.92/0.8432</text><text x="1448.3" y="220.1">11.0</text><text x="1487.4" y="220.1">0.822</text>
<text x="1163.6" y="229.7">35.21/0.9500</text><text x="1212" y="229.7">35.17/0.9640</text><text x="1259.5" y="229.7">40.12/0.9906</text><text x="1307.7" y="229.7">35.51/0.9778</text><text x="1355.8" y="229.7">29.73/0.9277</text><text x="1404" y="229.7">24.53/0.8476</text><text x="1448.3" y="229.7">5.0</text><text x="1487.4" y="229.7">0.172</text>
<text x="1163.6" y="239.2">35.38/<tspan class="u">0.9698</tspan></text><text x="1212" y="239.2">36.18/0.9805</text><text x="1259.5" y="239.2">39.59/0.9901</text><text x="1307.7" y="239.2">35.77/0.9789</text><text x="1355.8" y="239.2">30.58/0.9364</text><text x="1404" y="239.2">25.42/0.8639</text><text x="1448.3" y="239.2">18.1</text><text x="1487.4" y="239.2">0.277</text>
<text x="1163.6" y="248.7">35.18/0.9519</text><text x="1212" y="248.7">35.07/0.9681</text><text x="1259.5" y="248.7">39.78/0.9840</text><text x="1307.7" y="248.7">35.37/0.9641</text><text x="1355.8" y="248.7">29.91/0.8935</text><text x="1404" y="248.7">24.73/0.7782</text><text x="1448.3" y="248.7">5.5</text><text x="1487.4" y="248.7">0.098</text>
<text x="1163.6" y="258.2">35.28/0.9690</text><text x="1212" y="258.2">35.61/0.9780</text><text x="1259.5" y="258.2">40.06/0.9907</text><text x="1307.7" y="258.2">35.75/0.9789</text><text x="1355.8" y="258.2">30.10/0.9330</text><text x="1404" y="258.2">24.84/0.8534</text><text x="1448.3" y="258.2">9.8</text><text x="1487.4" y="258.2" class="r">0.012</text>
<text x="1163.6" y="267.8">35.41/0.9697</text><text x="1212" y="267.8">36.19/0.9807</text><text x="1259.5" y="267.8">40.28/0.9910</text><text x="1307.7" y="267.8">36.07/0.9797</text><text x="1355.8" y="267.8">30.64/0.9368</text><text x="1404" y="267.8">25.40/0.8634</text><text x="1448.3" y="267.8">3.9</text><text x="1487.4" y="267.8">0.082</text>
<text x="1163.6" y="277.3"><tspan class="u">35.43</tspan>/<tspan class="r">0.9700</tspan></text><text x="1212" y="277.3" class="r">36.50/0.9816</text><text x="1259.5" y="277.3">40.13/0.9907</text><text x="1307.7" y="277.3">36.09/<tspan class="u">0.9799</tspan></text><text x="1355.8" y="277.3">30.67/<tspan class="r">0.9378</tspan></text><text x="1404" y="277.3">25.43/<tspan class="r">0.8643</tspan></text><text x="1448.3" y="277.3">24.1</text><text x="1487.4" y="277.3">1.018</text>
<text x="1163.6" y="286.8">35.29/0.9693</text><text x="1212" y="286.8">35.80/0.9794</text><text x="1259.5" y="286.8">40.03/0.9905</text><text x="1307.7" y="286.8">35.94/0.9793</text><text x="1355.8" y="286.8">30.41/0.9358</text><text x="1404" y="286.8">25.05/0.8587</text><text x="1448.3" y="286.8">5.0</text><text x="1487.4" y="286.8" class="u">0.022</text>
<text x="1163.6" y="296.3">35.42/<tspan class="u">0.9698</tspan></text><text x="1212" y="296.3">36.20/0.9808</text><text x="1259.5" y="296.3">40.10/0.9906</text><text x="1307.7" y="296.3">36.12/0.9797</text><text x="1355.8" y="296.3">30.63/0.9368</text><text x="1404" y="296.3">25.27/0.8609</text><text x="1448.3" y="296.3">19.7</text><text x="1487.4" y="296.3">0.038</text>
<text x="1163.6" y="305.2">35.41/<tspan class="u">0.9698</tspan></text><text x="1212" y="305.2">36.03/0.9801</text><text x="1259.5" y="305.2">40.37/<tspan class="u">0.9910</tspan></text><text x="1307.7" y="305.2">36.16/0.9797</text><text x="1355.8" y="305.2">30.67/0.9365</text><text x="1404" y="305.2">25.49/0.8627</text><text x="1448.3" y="305.2" class="r">1.7</text><text x="1487.4" y="305.2">0.042</text>
<text x="1163.6" y="314.8"><tspan class="u">35.43</tspan>/<tspan class="r">0.9700</tspan></text><text x="1212" y="314.8">36.28/0.9810</text><text x="1259.5" y="314.8"><tspan class="u">40.42</tspan>/<tspan class="r">0.9911</tspan></text><text x="1307.7" y="314.8"><tspan class="u">36.24</tspan>/<tspan class="u">0.9799</tspan></text><text x="1355.8" y="314.8"><tspan class="u">30.81</tspan>/0.9370</text><text x="1404" y="314.8"><tspan class="u">25.58</tspan>/0.8636</text><text x="1448.3" y="314.8" class="u">3.7</text><text x="1487.4" y="314.8">0.062</text>
<text x="1163.6" y="324.3" class="r">35.47/0.9700</text><text x="1212" y="324.3"><tspan class="u">36.42</tspan>/<tspan class="u">0.9815</tspan></text><text x="1259.5" y="324.3" class="r">40.44/0.9911</text><text x="1307.7" y="324.3" class="r">36.29/0.9801</text><text x="1355.8" y="324.3"><tspan class="r">30.86</tspan>/<tspan class="u">0.9377</tspan></text><text x="1404" y="324.3"><tspan class="r">25.63</tspan>/<tspan class="u">0.8641</tspan></text><text x="1448.3" y="324.3">6.6</text><text x="1487.4" y="324.3">0.081</text>
</g>
<text class="c" x="1079.5" y="342.2" textLength="429.7" lengthAdjust="spacingAndGlyphs">Table 1. Qualitative (PSNR/SSIM) comparisons to state-of-the-art methods on UCF101 [<tspan class="g">33</tspan>], Vimeo90K [<tspan class="g">37</tspan>] and SNU-FILM [<tspan class="g">6</tspan>] bench-</text>
<text class="c" x="1079.5" y="351.3" textLength="205.6" lengthAdjust="spacingAndGlyphs">marks. <tspan fill="#f00">RED</tspan>: best performance, <tspan fill="#00f" text-decoration="underline">BLUE</tspan>: second best performance.</text>

<!-- Table 2 -->
<g stroke="#000"><line x1="1078.6" y1="366.7" x2="1301" y2="366.7" stroke-width=".6"/><line x1="1078.6" y1="377.7" x2="1301" y2="377.7" stroke-width="1.1"/><line x1="1078.6" y1="417.4" x2="1301" y2="417.4" stroke-width=".5"/><line x1="1078.6" y1="447.7" x2="1301" y2="447.7" stroke-width=".5"/><line x1="1078.6" y1="477.9" x2="1301" y2="477.9" stroke-width=".6"/></g>
<g class="s"><text x="1078.6" y="374.5">methods</text>
<text x="1078.6" y="385">DAIN [<tspan class="g">1</tspan>]</text><text x="1078.6" y="394.8">AdaCoF [<tspan class="g">17</tspan>]</text><text x="1078.6" y="404.8">ABME [<tspan class="g">30</tspan>]</text><text x="1078.6" y="414.6">XVFI [<tspan class="g">31</tspan>]</text>
<text x="1078.6" y="425.1">UPR-Net</text><text x="1078.6" y="434.9">UPR-Net large</text><text x="1078.6" y="444.7">UPR-Net LARGE</text>
<text x="1078.6" y="455">UPR-Net†</text><text x="1078.6" y="465.1">UPR-Net large†</text><text x="1078.6" y="475">UPR-Net LARGE†</text></g>
<g class="s" text-anchor="middle"><text x="1173.9" y="374.5">arbitrary time</text><text x="1221.7" y="374.5">reuse flow</text><text x="1269.9" y="374.5">X-TEST (4K)</text>
<text x="1269.9" y="385">26.78/0.8065</text><text x="1269.9" y="394.8">23.90/0.7271</text><text x="1269.9" y="404.8">30.16/0.8793</text><text x="1269.9" y="414.6">30.12/0.8704</text>
<text x="1269.9" y="425.1">30.13/0.8990</text><text x="1269.9" y="434.9" class="r">30.68/0.9086</text><text x="1269.9" y="444.7" class="u">30.50/0.9048</text>
<text x="1269.9" y="455">29.27/0.8877</text><text x="1269.9" y="465.1">30.14/0.9046</text><text x="1269.9" y="475">29.91/0.8998</text>
<text x="1221.7" y="414.6">partial</text></g>
<g text-anchor="middle" style="font-family:'DejaVu Sans',sans-serif;font-size:7px">
<text x="1173.9" y="385">✓</text><text x="1221.7" y="385">✓</text><text x="1173.9" y="394.8">×</text><text x="1221.7" y="394.8">×</text><text x="1173.9" y="404.8">✓</text><text x="1221.7" y="404.8">×</text><text x="1173.9" y="414.6">✓</text>
<text x="1173.9" y="425.1">✓</text><text x="1221.7" y="425.1">✓</text><text x="1173.9" y="434.9">✓</text><text x="1221.7" y="434.9">✓</text><text x="1173.9" y="444.7">✓</text><text x="1221.7" y="444.7">✓</text>
<text x="1173.9" y="455">✓</text><text x="1221.7" y="455">✓</text><text x="1173.9" y="465.1">✓</text><text x="1221.7" y="465.1">✓</text><text x="1173.9" y="475">✓</text><text x="1221.7" y="475">✓</text></g>
<text class="c" x="1078.6" y="493.8" textLength="221.3" lengthAdjust="spacingAndGlyphs">Table 2.  Quantitative (PSNR/SSIM) comparisons on X-TEST</text>
<text class="c" x="1078.6" y="503.6" textLength="221.3" lengthAdjust="spacingAndGlyphs">(from 4K1000FPS [<tspan class="g">37</tspan>]) for 8x multi-frame interpolation.  †: not</text>
<text class="c" x="1078.6" y="514" textLength="189.7" lengthAdjust="spacingAndGlyphs">skip pyramid levels for optical flow and frame synthesis.</text>

<!-- Table 3 -->
<g fill="#d0d0d0"><rect x="1369.2" y="395" width="28.8" height="9.3"/><rect x="1369.2" y="413.8" width="28.8" height="9.3"/><rect x="1369.2" y="432.7" width="28.8" height="9.3"/><rect x="1369.2" y="451.6" width="28.8" height="9.3"/><rect x="1369.2" y="470.5" width="28.8" height="9.3"/></g>
<g stroke="#000"><line x1="1308.3" y1="366.7" x2="1510.5" y2="366.7" stroke-width=".6"/><line x1="1308.3" y1="376.6" x2="1510.5" y2="376.6" stroke-width="1.1"/><line x1="1308.3" y1="404.8" x2="1510.5" y2="404.8" stroke-width=".5"/><line x1="1308.3" y1="423.8" x2="1510.5" y2="423.8" stroke-width=".5"/><line x1="1308.3" y1="442.7" x2="1510.5" y2="442.7" stroke-width=".5"/><line x1="1308.3" y1="461.7" x2="1510.5" y2="461.7" stroke-width=".5"/><line x1="1308.3" y1="480.5" x2="1510.5" y2="480.5" stroke-width=".6"/></g>
<g class="s" text-anchor="middle">
<text x="1337" y="374">experiments</text><text x="1383.3" y="374">methods</text><text x="1417.7" y="374">Vimeo90K</text><text x="1445.2" y="374">Hard</text><text x="1470.2" y="374">X-TEST</text><text x="1496.4" y="374">param.</text>
<text x="1337" y="393.2">recurrent modules</text><text x="1337" y="416.4">iterative synthesis</text><text x="1337" y="435.3">unified pipeline</text><text x="1337" y="454.3">correlation volume</text><text x="1337" y="473.2">context feature</text>
<text x="1383.3" y="383.8">only flow</text><text x="1417.7" y="383.8">35.98</text><text x="1445.2" y="383.8">30.33</text><text x="1470.2" y="383.8">24.01</text><text x="1496.4" y="383.8">3.60M</text>
<text x="1383.3" y="393.2">only syn.</text><text x="1417.7" y="393.2" class="bd">36.03</text><text x="1445.2" y="393.2">30.25</text><text x="1470.2" y="393.2">23.65</text><text x="1496.4" y="393.2">2.68M</text>
<text x="1383.3" y="402.3">both</text><text x="1417.7" y="402.3" class="bd">36.03</text><text x="1445.2" y="402.3" class="bd">30.67</text><text x="1470.2" y="402.3" class="bd">30.13</text><text x="1496.4" y="402.3">1.65M</text>
<text x="1383.3" y="411.9">plain</text><text x="1417.7" y="411.9">36.02</text><text x="1445.2" y="411.9">30.57</text><text x="1470.2" y="411.9">28.91</text><text x="1496.4" y="411.9">1.65M</text>
<text x="1383.3" y="421.2">iterative</text><text x="1417.7" y="421.2" class="bd">36.03</text><text x="1445.2" y="421.2" class="bd">30.67</text><text x="1470.2" y="421.2" class="bd">30.13</text><text x="1496.4" y="421.2">1.65M</text>
<text x="1383.3" y="430.7">separate</text><text x="1417.7" y="430.7">35.96</text><text x="1445.2" y="430.7" class="bd">30.67</text><text x="1470.2" y="430.7">29.89</text><text x="1496.4" y="430.7">1.82M</text>
<text x="1383.3" y="440.1">unified</text><text x="1417.7" y="440.1" class="bd">36.03</text><text x="1445.2" y="440.1" class="bd">30.67</text><text x="1470.2" y="440.1" class="bd">30.13</text><text x="1496.4" y="440.1">1.65M</text>
<text x="1383.3" y="449.9">without</text><text x="1417.7" y="449.9">35.81</text><text x="1445.2" y="449.9">30.59</text><text x="1470.2" y="449.9">29.51</text><text x="1496.4" y="449.9">1.64M</text>
<text x="1383.3" y="459">with</text><text x="1417.7" y="459" class="bd">36.03</text><text x="1445.2" y="459" class="bd">30.67</text><text x="1470.2" y="459" class="bd">30.13</text><text x="1496.4" y="459">1.65M</text>
<text x="1383.3" y="468.8">without</text><text x="1417.7" y="468.8">35.63</text><text x="1445.2" y="468.8" class="bd">30.68</text><text x="1470.2" y="468.8">29.91</text><text x="1496.4" y="468.8">1.43M</text>
<text x="1383.3" y="477.9">with</text><text x="1417.7" y="477.9" class="bd">36.03</text><text x="1445.2" y="477.9">30.67</text><text x="1470.2" y="477.9" class="bd">30.13</text><text x="1496.4" y="477.9">1.65M</text>
</g>
<text class="c" x="1308.3" y="495.3" textLength="201" lengthAdjust="spacingAndGlyphs">Table 3. Ablation studies of our design choices on Vimeo90K [<tspan class="g">37</tspan>],</text>
<text class="c" x="1308.3" y="505.2" textLength="201" lengthAdjust="spacingAndGlyphs">hard subset of SNU-FILM [<tspan class="g">6</tspan>], and 4K X-TEST [<tspan class="g">31</tspan>]. Default set-</text>
<rect x="1481" y="507.5" width="18.5" height="9" fill="#d0d0d0"/>
<text class="c" x="1308.3" y="514.2" textLength="193" lengthAdjust="spacingAndGlyphs">tings (independent of benchmark datasets) are marked in  gray .</text>

<!-- Qualitative -->
<text class="h" x="1078.6" y="552.6" textLength="132.2" lengthAdjust="spacingAndGlyphs">Qualitative results</text>
<g>
<use href="#bt" x="1078.6" y="563.5" width="52" height="28"/><use href="#bt" x="1133.3" y="563.5" width="52" height="28"/><use href="#bt" x="1188" y="563.5" width="52" height="28"/><use href="#bt" x="1240.5" y="563.5" width="52" height="28"/><use href="#bt" x="1295.2" y="563.5" width="52" height="28"/><use href="#bt" x="1349.9" y="563.5" width="52" height="28"/><use href="#bt" x="1404" y="563.5" width="52" height="28"/><use href="#bt" x="1458.3" y="563.5" width="52" height="28"/>
<use href="#bw" x="1078.6" y="592.5" width="52" height="49"/><use href="#bw" x="1133.3" y="592.5" width="52" height="49"/><use href="#bw" x="1188" y="592.5" width="52" height="49"/><use href="#bw" x="1240.5" y="592.5" width="52" height="49"/><use href="#bw" x="1295.2" y="592.5" width="52" height="49"/><use href="#bw" x="1349.9" y="592.5" width="52" height="49"/><use href="#bw" x="1404" y="592.5" width="52" height="49"/><use href="#bw" x="1458.3" y="592.5" width="52" height="49"/>
<use href="#cr" x="1078.6" y="646.7" width="52" height="27.5"/><use href="#cr" x="1133.3" y="646.7" width="52" height="27.5"/><use href="#cr" x="1188" y="646.7" width="52" height="27.5"/><use href="#cr" x="1240.5" y="646.7" width="52" height="27.5"/><use href="#cr" x="1295.2" y="646.7" width="52" height="27.5"/><use href="#cr" x="1349.9" y="646.7" width="52" height="27.5"/><use href="#cr" x="1404" y="646.7" width="52" height="27.5"/><use href="#cr" x="1458.3" y="646.7" width="52" height="27.5"/>
<use href="#gl" x="1078.6" y="675" width="52" height="47"/><use href="#gl" x="1133.3" y="675" width="52" height="47"/><use href="#gl" x="1188" y="675" width="52" height="47"/><use href="#gl" x="1240.5" y="675" width="52" height="47"/><use href="#gl" x="1295.2" y="675" width="52" height="47"/><use href="#gl" x="1349.9" y="675" width="52" height="47"/><use href="#gl" x="1404" y="675" width="52" height="47"/><use href="#gl" x="1458.3" y="675" width="52" height="47"/>
</g>
<g stroke="#555" stroke-width=".5" stroke-dasharray="2,1.5"><line x1="1132" y1="563" x2="1132" y2="733"/><line x1="1186.7" y1="563" x2="1186.7" y2="733"/><line x1="1239.2" y1="563" x2="1239.2" y2="733"/><line x1="1293.9" y1="563" x2="1293.9" y2="733"/><line x1="1348.6" y1="563" x2="1348.6" y2="733"/><line x1="1402.7" y1="563" x2="1402.7" y2="733"/><line x1="1457" y1="563" x2="1457" y2="733"/></g>
<g class="d" text-anchor="middle" style="font-size:7px"><text x="1104.6" y="730.8">Overlay inputs</text><text x="1159.3" y="730.8">Ground truth</text><text x="1214" y="730.8">CAIN</text><text x="1266.5" y="730.8">ABME</text><text x="1321.2" y="730.8">VFIformer</text><text x="1375.9" y="730.8">IFRNet large</text><text x="1430" y="730.8" font-weight="bold">UPR-Net</text><text x="1484.3" y="730.8" font-weight="bold">UPR-Net large</text></g>
<text class="c" x="1087" y="748.8" textLength="414" lengthAdjust="spacingAndGlyphs">Figure 7. Qualitative comparisons on SNU-FILM [<tspan class="g">6</tspan>]. First example from the hard subset, and second example from extreme subset.</text>
</svg>
</body></html>
